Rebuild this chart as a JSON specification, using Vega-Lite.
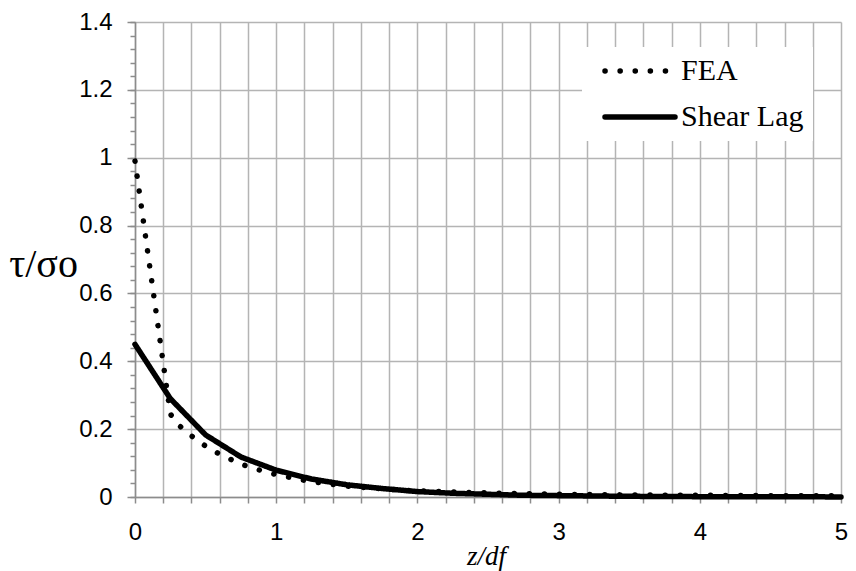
{
  "$schema": "https://vega.github.io/schema/vega-lite/v6.json",
  "autosize": "none",
  "width": 706,
  "height": 475,
  "padding": {"left": 135, "top": 22, "right": 15, "bottom": 74},
  "background": "white",
  "config": {"view": {"stroke": null}},
  "data": {"values": [
    {"z": 0, "v": 0.99, "series": "FEA"},
    {"z": 0.25, "v": 0.245, "series": "FEA"},
    {"z": 0.3, "v": 0.215, "series": "FEA"},
    {"z": 0.4, "v": 0.18, "series": "FEA"},
    {"z": 0.5, "v": 0.15, "series": "FEA"},
    {"z": 0.6, "v": 0.126, "series": "FEA"},
    {"z": 0.75, "v": 0.097, "series": "FEA"},
    {"z": 0.9, "v": 0.077, "series": "FEA"},
    {"z": 1.0, "v": 0.066, "series": "FEA"},
    {"z": 1.25, "v": 0.045, "series": "FEA"},
    {"z": 1.5, "v": 0.032, "series": "FEA"},
    {"z": 1.75, "v": 0.024, "series": "FEA"},
    {"z": 2.0, "v": 0.018, "series": "FEA"},
    {"z": 2.5, "v": 0.012, "series": "FEA"},
    {"z": 3.0, "v": 0.008, "series": "FEA"},
    {"z": 3.5, "v": 0.006, "series": "FEA"},
    {"z": 4.0, "v": 0.005, "series": "FEA"},
    {"z": 4.5, "v": 0.004, "series": "FEA"},
    {"z": 5.0, "v": 0.004, "series": "FEA"},
    {"z": 0, "v": 0.45, "series": "Shear Lag"},
    {"z": 0.25, "v": 0.29, "series": "Shear Lag"},
    {"z": 0.5, "v": 0.183, "series": "Shear Lag"},
    {"z": 0.75, "v": 0.118, "series": "Shear Lag"},
    {"z": 1.0, "v": 0.079, "series": "Shear Lag"},
    {"z": 1.25, "v": 0.053, "series": "Shear Lag"},
    {"z": 1.5, "v": 0.036, "series": "Shear Lag"},
    {"z": 1.75, "v": 0.025, "series": "Shear Lag"},
    {"z": 2.0, "v": 0.016, "series": "Shear Lag"},
    {"z": 2.25, "v": 0.011, "series": "Shear Lag"},
    {"z": 2.5, "v": 0.008, "series": "Shear Lag"},
    {"z": 2.75, "v": 0.005, "series": "Shear Lag"},
    {"z": 3.0, "v": 0.004, "series": "Shear Lag"},
    {"z": 3.5, "v": 0.002, "series": "Shear Lag"},
    {"z": 4.0, "v": 0.001, "series": "Shear Lag"},
    {"z": 4.5, "v": 0.0006, "series": "Shear Lag"},
    {"z": 5.0, "v": 0.0003, "series": "Shear Lag"}
  ]},
  "resolve": {"scale": {"y": "shared", "x": "shared"}, "axis": {"y": "independent"}},
  "layer": [
    {
      "mark": {"type": "line", "strokeWidth": 5.5, "strokeCap": "round", "strokeJoin": "round", "color": "black"},
      "encoding": {
        "x": {"field": "z", "type": "quantitative", "scale": {"domain": [0, 5], "nice": false},
          "axis": {"values": [0,0.2,0.4,0.6,0.8,1,1.2,1.4,1.6,1.8,2,2.2,2.4,2.6,2.8,3,3.2,3.4,3.6,3.8,4,4.2,4.4,4.6,4.8,5],
            "tickCount": 100,
            "labelExpr": "abs(datum.value - round(datum.value)) < 0.001 ? format(datum.value, 'd') : ''",
            "labelOverlap": false, "labelFlush": false,
            "labelFont": "Liberation Sans", "labelFontSize": 24, "labelColor": "black", "labelPadding": 17,
            "tickSize": 6, "tickColor": "#8c8c8c", "tickWidth": 1.5,
            "domainColor": "#8c8c8c", "domainWidth": 1.5,
            "grid": true, "gridColor": "#b4b4b4", "gridWidth": 1.5,
            "title": "z/df", "titleFont": "Liberation Serif", "titleFontSize": 27, "titleFontWeight": "normal", "titleFontStyle": "italic", "titleColor": "black",
            "titleX": 351, "titleY": 67, "titleAlign": "center", "titleBaseline": "alphabetic"}},
        "y": {"field": "v", "type": "quantitative", "scale": {"domain": [0, 1.4], "nice": false},
          "axis": {"orient": "left", "values": [0,0.2,0.4,0.6,0.8,1,1.2,1.4], "format": "~g", "tickCount": 100,
            "labelOverlap": false, "labelFlush": false,
            "labelFont": "Liberation Sans", "labelFontSize": 24, "labelColor": "black", "labelPadding": 15,
            "tickSize": 8, "tickColor": "#8c8c8c", "tickWidth": 1.5,
            "domainColor": "#8c8c8c", "domainWidth": 1.5,
            "grid": true, "gridColor": "#b4b4b4", "gridWidth": 1.5,
            "title": "τ/σo", "titleFont": "Liberation Serif", "titleFontSize": 40, "titleFontWeight": "normal", "titleColor": "black",
            "titleAngle": 0, "titleX": -92, "titleY": 254, "titleAlign": "center", "titleBaseline": "alphabetic"}},
        "strokeDash": {"field": "series", "type": "nominal",
          "scale": {"domain": ["FEA", "Shear Lag"], "range": [[0.1, 15], [1, 0]]},
          "legend": {"orient": "none", "legendX": 447, "legendY": 25, "title": null,
            "fillColor": "white", "padding": 9, "rowPadding": 16, "clipHeight": 30,
            "symbolType": "stroke", "symbolSize": 4900, "symbolStrokeWidth": 5.5, "symbolStrokeColor": "black", "symbolOffset": 11,
            "labelFont": "Liberation Serif", "labelFontSize": 30, "labelColor": "black", "labelOffset": 3, "labelLimit": 300,
            "encode": {"symbols": {"update": {"strokeCap": {"value": "round"}}}}}}
      }
    },
    {
      "mark": {"type": "point", "opacity": 0},
      "encoding": {
        "x": {"field": "z", "type": "quantitative"},
        "y": {"field": "v", "type": "quantitative",
          "axis": {"orient": "left", "values": [0,0.04,0.08,0.12,0.16,0.2,0.24,0.28,0.32,0.36,0.4,0.44,0.48,0.52,0.56,0.6,0.64,0.68,0.72,0.76,0.8,0.84,0.88,0.92,0.96,1,1.04,1.08,1.12,1.16,1.2,1.24,1.28,1.32,1.36,1.4],
            "tickCount": 100,
            "labels": false, "grid": false, "domain": false, "tickSize": 5, "tickColor": "#8c8c8c", "tickWidth": 1.5, "title": null}}
      }
    }
  ]
}
